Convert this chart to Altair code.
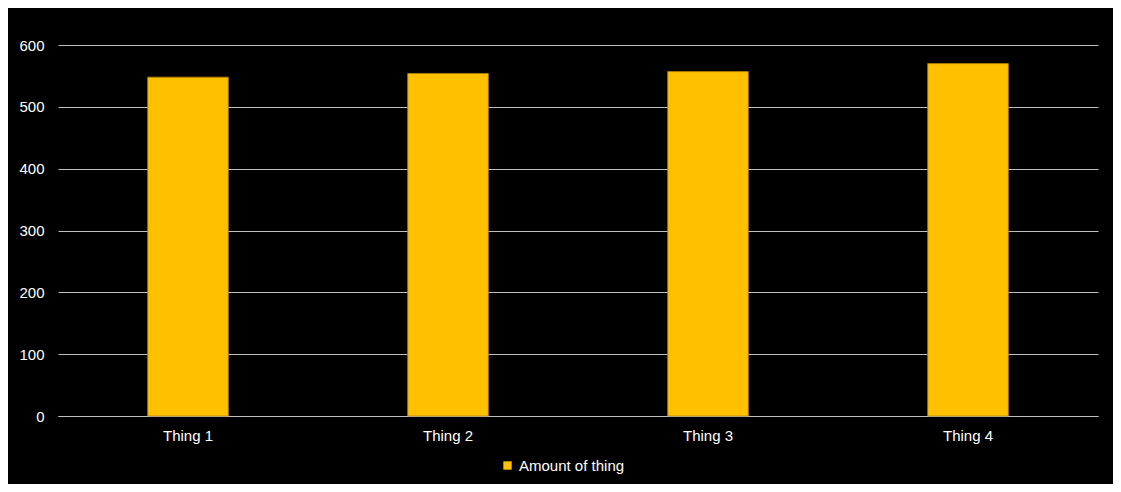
import altair as alt
import pandas as pd

categories = ["Thing 1", "Thing 2", "Thing 3", "Thing 4"]
values = [548, 554, 557, 570]
series = ["Amount of thing"] * 4

df = pd.DataFrame({"cat": categories, "val": values, "series": series})

FONT = "Liberation Sans"

bars = alt.Chart(df).mark_bar(stroke="#b08400", strokeWidth=0.8).encode(
    x=alt.X("cat:N", sort=categories, title=None,
            scale=alt.Scale(paddingInner=0.69, paddingOuter=0.345),
            axis=alt.Axis(labelAngle=0, labelColor="#ffffff", labelFont=FONT,
                          labelFontSize=15, labelPadding=12, ticks=False,
                          domain=True, domainColor="#bfbfbf", domainWidth=1,
                          grid=False)),
    y=alt.Y("val:Q", title=None,
            scale=alt.Scale(domain=[0, 600], nice=False),
            axis=alt.Axis(values=[0, 100, 200, 300, 400, 500, 600],
                          labelColor="#ffffff", labelFont=FONT, labelFontSize=15,
                          labelPadding=14, ticks=False, domain=False,
                          gridColor="#bfbfbf", gridWidth=1)),
    color=alt.Color("series:N", title=None,
                    scale=alt.Scale(range=["#FFC000"]),
                    legend=alt.Legend(orient="none", legendX=442, legendY=413,
                                      symbolType="square", symbolSize=70,
                                      symbolStrokeWidth=0,
                                      labelColor="#ffffff", labelFont=FONT,
                                      labelFontSize=15, labelOffset=4)),
)

chart = bars.properties(
    width=1040, height=371,
    background="#000000",
    autosize=alt.AutoSizeParams(type="none"),
    padding={"left": 50, "top": 37, "right": 15, "bottom": 68},
).configure_view(stroke=None)

chart.save("out.html", embed_options={"renderer": "svg", "actions": False})
